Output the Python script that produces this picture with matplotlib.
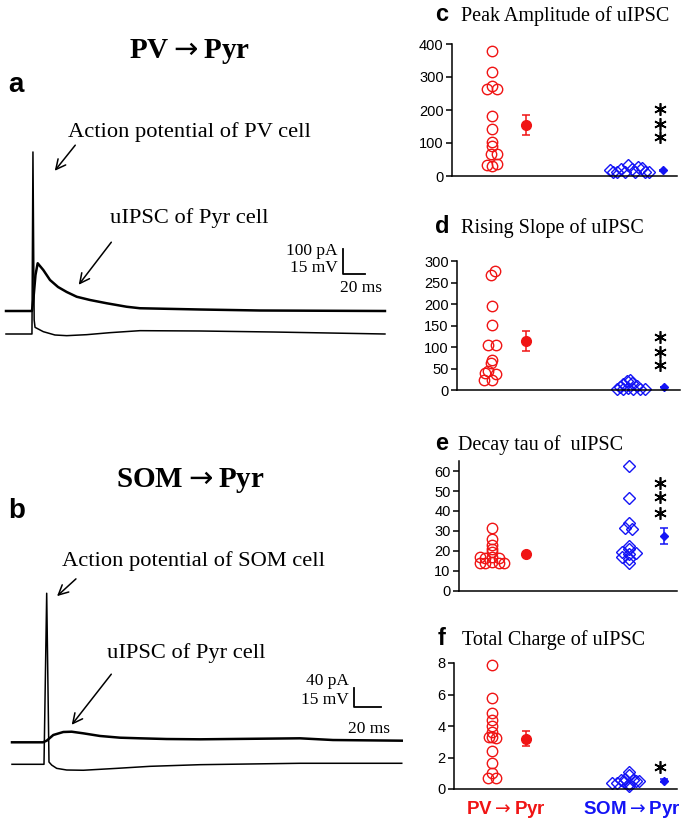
import numpy as np
import matplotlib
matplotlib.use("Agg")
import matplotlib.pyplot as plt

plt.rcParams["mathtext.fontset"] = "dejavusans"

# ---- trace data (time in ms, current in pA, voltage in mV)
t_pv_i = [0, 23.6, 25.0, 26.8, 28.8, 33.9, 40, 47.3, 55.2, 64.3, 76.4, 91.5, 109.7, 121.8, 176.4, 230.9, 344.5]
i_pv = [0, 0, 52, 144, 191, 164, 124, 96, 76, 57, 44, 31, 17, 11, 6, 2, 0]
t_pv_v = [0, 23.6, 24.5, 25.6, 26.4, 33.9, 44.5, 55.2, 73.4, 94.5, 121.8, 176.4, 242.7, 344.5]
v_pv = [-65, -65, 44.2, -56.6, -61.0, -63.6, -65.6, -66.0, -65.4, -64.2, -63.0, -63.2, -63.8, -65.0]

t_som_i = [0, 23, 25.7, 30.6, 38, 44.2, 52.8, 65.2, 80, 94.8, 114.6, 139.3, 213.3, 237.8, 288.7]
i_som = [0, 0, 3.4, 15.4, 21.7, 22.3, 18.9, 13.3, 9.7, 8.4, 6.9, 6.3, 8.4, 4.8, 3.4]
t_som_v = [0, 23.7, 25.7, 27.4, 29.4, 33.1, 40.5, 52.8, 77.6, 102.2, 139.3, 213.3, 288.7]
v_som = [-65, -65, 70, -63.2, -65.6, -68.2, -69.5, -69.7, -68.2, -66.6, -65.3, -64.2, -64.2]

# ---- scatter data
amp_pv = [378, 314, 265, 272, 265, 181, 143, 104, 90, 66, 68, 33, 30, 36]
amp_pv_dx = [0, 0, -5, 0, 5, 0, 0, 0, 0, -1, 5, -5, 0, 5]
amp_som = [19, 13, 11, 20, 11, 32, 22, 13, 27, 25, 13, 11]
amp_som_dx = [-19, -16, -12, -8, -4, -1, 3, 6, 9, 13, 16, 20]
amp_mean = [155, 17]
amp_sem = [30, 2]
amp_stars = [203, 157, 117]

slope_pv = [277, 267, 195, 152, 105, 105, 70, 63, 45, 39, 37, 23, 23]
slope_pv_dx = [3, -1, 0, 0, -4, 4, 0, -1, -4, -7, 4, -8, 0]
slope_som = [3, 8, 14, 20, 24, 17, 4, 3, 9, 3, 2, 3]
slope_som_dx = [-12, -9, -6, -2, 1, 3, -1, 4, 8, 11, 16, -6]
slope_mean = [114, 7]
slope_sem = [24, 1]
slope_stars = [124, 89, 57]

tau_pv = [31.5, 26, 23, 21, 19.5, 17, 16.5, 17, 16.5, 14, 14, 14.5, 14, 14]
tau_pv_dx = [0, 0, 0, 0, 0, -12, -7, 0, 7, -12, -7, 0, 7, 12]
tau_som = [62.5, 46.5, 34, 31.7, 31.2, 22.7, 21, 19.7, 19.2, 18.3, 17, 15.8, 13.8]
tau_som_dx = [0, 0, 0, -4, 3, 0, 0, -7, 7, 0, -7, 0, 0]
tau_mean = [18.5, 27.5]
tau_sem = [0.8, 4]
tau_stars = [54, 47, 39]

charge_pv = [7.9, 5.8, 4.85, 4.4, 4.0, 3.6, 3.3, 3.25, 3.3, 2.4, 1.65, 1.0, 0.7, 0.7]
charge_pv_dx = [0, 0, 0, 0, 0, 0, -3, 4, 0, 0, 0, 0, -4, 4]
charge_som = [1.1, 0.9, 0.6, 0.5, 0.4, 0.4, 0.45, 0.3, 0.2, 0.5, 0.65, 0.55]
charge_som_dx = [0, 0, -8, 7, -17, -12, -5, 0, 0, 10, -4, 4]
charge_mean = [3.2, 0.53]
charge_sem = [0.5, 0.1]
charge_stars = [1.4]

groups = [r"PV$\rightarrow$Pyr", r"SOM$\rightarrow$Pyr"]
red = "#f01414"
blue = "#1414f5"
serif = ["Liberation Serif", "DejaVu Serif"]
sans = ["Liberation Sans", "DejaVu Sans"]

W, H = 685, 826
fig = plt.figure(figsize=(6.85, 8.26), dpi=100)


def rect(l, t, r, b):
    return [l / W, 1 - b / H, (r - l) / W, (b - t) / H]


def ftext(x, y, s, **kw):
    fig.text(x / W, 1 - y / H, s, **kw)


def arrow(x0, y0, x1, y1):
    fig.add_artist(matplotlib.patches.FancyArrowPatch(
        (x0 / W, 1 - y0 / H), (x1 / W, 1 - y1 / H), transform=fig.transFigure,
        arrowstyle="->,head_length=7,head_width=3.5", lw=1.1, color="black"))


def set_scale(ax, base_val, base_px, px_per_unit, top_px, bot_px):
    ax.set_ylim(base_val - (bot_px - base_px) / px_per_unit,
                base_val + (base_px - top_px) / px_per_unit)


# ---- trace panels
traces = [
    # box px, t0 px, px/ms, current baseline px, px/pA, voltage baseline px, px/mV, scale bar
    dict(box=(0, 140, 410, 350), t0=6, pxms=1.1, ib=311, pxi=0.25, vb=334, pxv=1.667,
         ti=t_pv_i, i=i_pv, tv=t_pv_v, v=v_pv, bar=(306.4, 148, 100)),
    dict(box=(0, 570, 410, 800), t0=12, pxms=1.35, ib=742.3, pxi=0.475, vb=764.3, pxv=1.267,
         ti=t_som_i, i=i_som, tv=t_som_v, v=v_som, bar=(253.3, 74.3, 40)),
]
for tr in traces:
    l, t, r, b = tr["box"]
    ax = fig.add_axes(rect(l, t, r, b))
    axv = ax.twinx()
    for a in (ax, axv):
        a.set_xlim((l - tr["t0"]) / tr["pxms"], (r - tr["t0"]) / tr["pxms"])
        a.axis("off")
    set_scale(ax, 0, tr["ib"], tr["pxi"], t, b)
    set_scale(axv, -65, tr["vb"], tr["pxv"], t, b)
    ax.plot(tr["ti"], tr["i"], color="black", lw=1.8)
    axv.plot(tr["tv"], tr["v"], color="black", lw=1.1)
    bx, by, dy = tr["bar"]
    ax.plot([bx, bx, bx + 20], [by + dy, by, by], color="black", lw=1.3)

# titles and labels of left column
ftext(190, 58, groups[0], family=serif, weight="bold", fontsize=21, ha="center")
ftext(8, 92, "a", family=sans, weight="bold", fontsize=20)
ftext(190, 487, groups[1], family=serif, weight="bold", fontsize=21, ha="center")
ftext(8, 518, "b", family=sans, weight="bold", fontsize=20)

ftext(68, 137, "Action potential of PV cell", family=serif, fontsize=16.2)
ftext(110, 223, "uIPSC of Pyr cell", family=serif, fontsize=16.2)
ftext(62, 566, "Action potential of SOM cell", family=serif, fontsize=16.2)
ftext(107, 658, "uIPSC of Pyr cell", family=serif, fontsize=16.2)
arrow(77, 143, 53, 173)
arrow(113, 240, 77, 287)
arrow(78, 577, 55, 598)
arrow(113, 672, 70, 727)

ftext(338, 251, "100 pA", family=serif, fontsize=12.5, ha="right", va="center")
ftext(338, 268, "15 mV", family=serif, fontsize=12.5, ha="right", va="center")
ftext(361, 288, "20 ms", family=serif, fontsize=12.5, ha="center", va="center")
ftext(349, 681, "40 pA", family=serif, fontsize=12.5, ha="right", va="center")
ftext(349, 700, "15 mV", family=serif, fontsize=12.5, ha="right", va="center")
ftext(369, 729, "20 ms", family=serif, fontsize=12.5, ha="center", va="center")

# ---- scatter panels
pxu = 34.3  # pixels per x unit, PV column at x=1 sits at 492 px
panels = [
    ("c", "Peak Amplitude of uIPSC", (452, 44, 677, 176), (0, 400), 100, (435, 461, 21),
     amp_pv, amp_pv_dx, amp_som, amp_som_dx, amp_mean, amp_sem, amp_stars),
    ("d", "Rising Slope of uIPSC", (457, 261, 680, 390), (0, 300), 50, (435, 461, 233),
     slope_pv, slope_pv_dx, slope_som, slope_som_dx, slope_mean, slope_sem, slope_stars),
    ("e", "Decay tau of  uIPSC", (459, 461, 677, 591), (0, 65), 10, (435, 458, 450),
     tau_pv, tau_pv_dx, tau_som, tau_som_dx, tau_mean, tau_sem, tau_stars),
    ("f", "Total Charge of uIPSC", (454, 663, 677, 789), (0, 8), 2, (438, 462, 645),
     charge_pv, charge_pv_dx, charge_som, charge_som_dx, charge_mean, charge_sem, charge_stars),
]
for (letter, title, box, ylim, step, tpos, pv, pv_dx, som, som_dx,
     means, sems, stars) in panels:
    l, t, r, b = box
    ax = fig.add_axes(rect(l, t, r, b))
    ax.set_xlim(1 - (492 - l) / pxu, 1 + (r - 492) / pxu)
    ax.set_ylim(*ylim)
    ax.set_yticks(np.arange(0, ylim[1] + 0.01, step))
    ax.set_xticks([])
    for s in ("top", "right"):
        ax.spines[s].set_visible(False)
    for s in ("left", "bottom"):
        ax.spines[s].set_linewidth(1.1)
    ax.tick_params(axis="y", direction="out", length=4, width=1.1, pad=2, labelsize=10.5)
    for lab in ax.get_yticklabels():
        lab.set_family(sans)

    ax.plot(1 + np.array(pv_dx) / pxu, pv, "o", ms=7.5, mfc="none", mec=red, mew=1.0, clip_on=False)
    ax.plot(5 + np.array(som_dx) / pxu, som, "D", ms=5.8, mfc="none", mec=blue, mew=1.0, clip_on=False)
    ax.errorbar([2], [means[0]], yerr=[sems[0]], fmt="o", ms=7, color=red, capsize=3,
                elinewidth=1.1, capthick=1.1, clip_on=False)
    ax.errorbar([6], [means[1]], yerr=[sems[1]], fmt="D", ms=4.5, color=blue, capsize=3,
                elinewidth=1.1, capthick=1.1, clip_on=False)
    ax.plot([5.9] * len(stars), stars, ls="none", marker=(6, 2, 0), ms=9, mew=1.2,
            color="black", clip_on=False)

    lx, tx, ty = tpos
    ftext(lx, ty, letter, family=sans, weight="bold", fontsize=17)
    ftext(tx, ty, title, family=serif, fontsize=14.5)

ftext(506, 810, groups[0], family=sans, weight="bold", fontsize=13.5, color=red,
      ha="center", va="center")
ftext(632, 810, groups[1], family=sans, weight="bold", fontsize=13.5, color=blue,
      ha="center", va="center")

fig.savefig("out.png", dpi=100)
